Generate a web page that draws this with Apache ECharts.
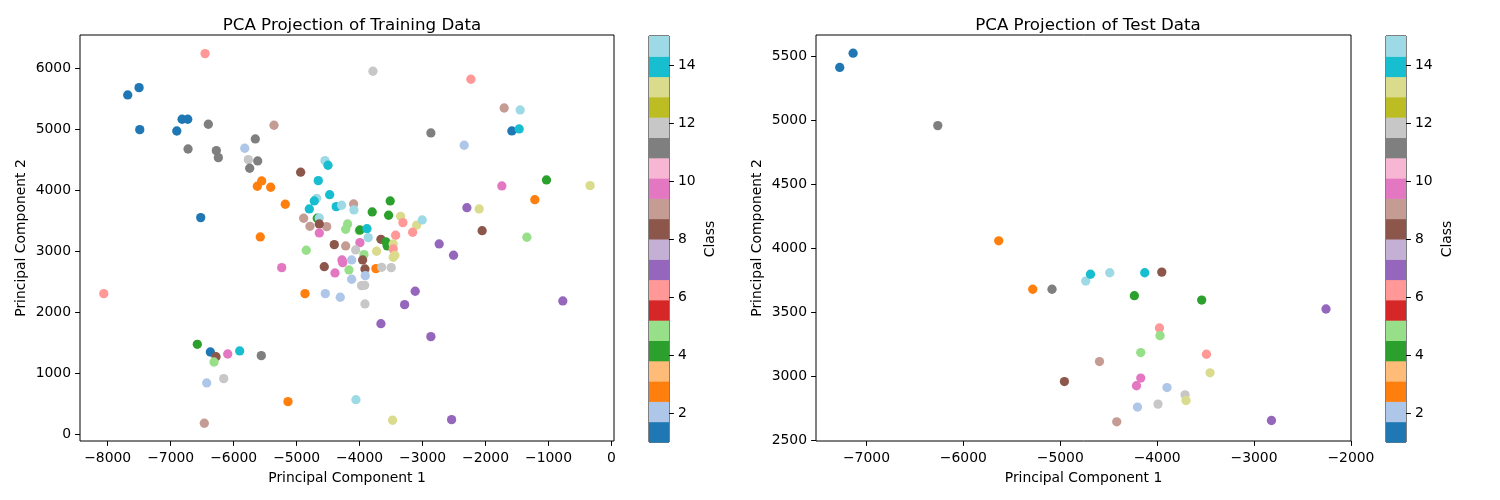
<!DOCTYPE html>
<html><head><meta charset="utf-8">
<script src="https://cdn.jsdelivr.net/npm/echarts@6/dist/echarts.min.js"></script>
<style>html,body{margin:0;padding:0;background:#fff}#c{width:1500px;height:500px}</style>
</head><body><div id="c"></div><script>
// ---- Training data (PC1, PC2, class) ----
const trainPC1 = [-6454,-7502,-7682,-7491,-6819,-6729,-6903,-6402,-5359,-5656,-6724,-6275,-6243,-5824,-5767,-5618,-5745,-4936,-4550,-4502,
 -5555,-5624,-5412,-4656,-4475,-5180,-4682,-4720,-4799,-4371,-4285,-6523,-5577,-4888,-4672,-4640,-4788,-4523,-4640,-4640,
 -4190,-4221,-4095,-4090,-3514,-3800,-3539,-3349,-3312,-3095,-3006,-3158,-3428,-4006,-3995,-3883,-3863,-3995,-4402,-4221,
 -4063,-3931,-3661,-3561,-3580,-3466,-3466,-3466,-3440,-3730,-4847,-5237,-4561,-4280,-4269,-4126,-3952,-4391,-4169,-3915,
 -3910,-4126,-3741,-3650,-3498,-3968,-3920,-3915,-4867,-4545,-4307,-3117,-3285,-3661,-2868,-2736,-2508,-773,-4058,-3476,
 -2539,-3788,-2233,-1704,-1450,-2868,-1582,-1466,-2339,-1741,-1032,-340,-1217,-2296,-2101,-2054,-1344,-8062,-6577,-6370,
 -6280,-6312,-6094,-5904,-5561,-6428,-6158,-5137,-6466];
const trainPC2 = [6237,5679,5560,4991,5161,5161,4969,5079,5063,4838,4674,4647,4532,4686,4499,4478,4358,4293,4483,4407,
 4150,4063,4047,4155,3925,3768,3866,3822,3691,3729,3752,3549,3232,3539,3539,3543,3407,3401,3445,3298,
 3445,3358,3773,3675,3822,3642,3588,3571,3467,3424,3511,3309,3260,3335,3347,3368,3221,3139,3106,3085,
 3019,2942,3194,3085,3150,3118,3035,2899,2930,2998,3014,2729,2745,2855,2811,2855,2855,2642,2691,2708,
 2598,2539,2713,2735,2729,2434,2440,2134,2303,2303,2244,2342,2123,1811,1598,3118,2932,2183,565,228,
 238,5948,5817,5346,5314,4937,4970,5002,4735,4068,4166,4073,3843,3712,3691,3335,3227,2303,1473,1347,
 1270,1183,1314,1364,1287,839,910,533,179];
const trainClass = [6,1,1,1,1,1,1,11,9,11,11,11,11,2,12,11,11,8,15,14,
 3,3,3,14,14,3,15,14,14,14,15,1,3,9,4,15,9,9,8,10,
 5,5,9,15,4,4,4,13,6,13,15,6,6,5,4,14,15,10,8,9,
 12,5,8,4,4,13,6,13,13,13,5,10,8,10,10,2,8,10,5,8,
 2,2,3,12,12,12,12,12,3,2,2,7,7,7,7,7,7,7,15,13,
 7,12,6,9,15,11,1,14,2,10,4,13,3,7,13,8,5,6,4,1,
 8,5,10,14,11,2,12,3,9];
// ---- Test data (PC1, PC2, class) ----
const testPC1 = [-7138,-7276,-6264,-5635,-5284,-5085,-4957,-4737,-4688,-4489,-4128,-3952,-4235,-3540,-2257,-3976,-3970,-4169,-3491,-4595,
 -3454,-4169,-4213,-3898,-3712,-3702,-3991,-4203,-4417,-2820];
const testPC2 = [5523,5412,4958,4059,3681,3681,2961,3745,3798,3810,3810,3815,3631,3597,3527,3379,3319,3187,3174,3117,
 3029,2988,2928,2914,2857,2813,2785,2762,2647,2657];
const testClass = [1,1,11,3,3,11,8,15,14,15,14,8,4,4,7,6,5,5,6,9,
 13,10,10,2,12,13,12,2,9,7];
// ---- Tick labels ----
const trainXTicks = [-8000,-7000,-6000,-5000,-4000,-3000,-2000,-1000,0];
const trainYTicks = [0,1000,2000,3000,4000,5000,6000];
const testXTicks = [-7000,-6000,-5000,-4000,-3000,-2000];
const testYTicks = [2500,3000,3500,4000,4500,5000,5500];
const classTicks = [2,4,6,8,10,12,14];
const classMin = 1, classMax = 15;
// tab20 colormap
const tab20 = ['#1f77b4','#aec7e8','#ff7f0e','#ffbb78','#2ca02c','#98df8a','#d62728','#ff9896','#9467bd','#c5b0d5',
 '#8c564b','#c49c94','#e377c2','#f7b6d2','#7f7f7f','#c7c7c7','#bcbd22','#dbdb8d','#17becf','#9edae5'];

function classColor(c){
  let i = Math.floor((c - classMin) / (classMax - classMin) * tab20.length);
  return tab20[Math.max(0, Math.min(tab20.length - 1, i))];
}
const cbSegments = tab20.map((col, i) => [
  classMin + i * (classMax - classMin) / tab20.length,
  classMin + (i + 1) * (classMax - classMin) / tab20.length, i]);

const FONT = 'DejaVu Sans';
const fmt = v => (v < 0 ? '\u2212' + Math.abs(v) : String(v));
const tickFont = {fontFamily: FONT, fontSize: 13.9, color: '#000'};

function valAxis(gridIndex, min, max, ticks, name, isY, gap) {
  return {
    type: 'value', gridIndex, min, max, scale: true,
    position: isY ? 'left' : 'bottom',
    axisLine: {show: false, onZero: false},
    splitLine: {show: false},
    axisTick: {show: true, length: 4.9, customValues: ticks, lineStyle: {color: '#000', width: 1}},
    axisLabel: Object.assign({customValues: ticks, margin: isY ? 9 : 10, formatter: fmt}, tickFont),
    name, nameLocation: 'middle', nameGap: gap,
    nameRotate: isY ? 90 : 0,
    nameTextStyle: {fontFamily: FONT, fontSize: 13.9, color: '#000'}
  };
}
function cbYAxis(gridIndex) {
  return {
    type: 'value', gridIndex, min: classMin, max: classMax, position: 'right',
    axisLine: {show: false, onZero: false}, splitLine: {show: false},
    axisTick: {show: true, length: 4.9, customValues: classTicks, lineStyle: {color: '#000'}},
    axisLabel: Object.assign({customValues: classTicks, margin: 9}, tickFont),
    name: 'Class', nameLocation: 'middle', nameGap: 34, nameRotate: 90,
    nameTextStyle: {fontFamily: FONT, fontSize: 13.9, color: '#000'}
  };
}
function cbXAxis(gridIndex) {
  return {type: 'value', gridIndex, min: 0, max: 1, show: false, axisLine: {onZero: false}};
}
function cbSeries(idx) {
  return {
    type: 'custom', xAxisIndex: idx, yAxisIndex: idx, data: cbSegments, silent: true,
    encode: {y: [0, 1]},
    renderItem: (params, api) => {
      const p0 = api.coord([0, api.value(0)]);
      const p1 = api.coord([1, api.value(1)]);
      return {type: 'rect', shape: {x: p0[0], y: p1[1], width: p1[0] - p0[0], height: p0[1] - p1[1] + 0.5},
        style: {fill: tab20[api.value(2)]}};
    }
  };
}
function scatterSeries(idx, xs, ys, cs) {
  return {
    type: 'scatter', xAxisIndex: idx, yAxisIndex: idx, symbolSize: 9.3,
    data: xs.map((x, i) => [x, ys[i], cs[i]]),
    itemStyle: {opacity: 1, color: p => classColor(p.value[2])}
  };
}
const gridStyle = {show: true, borderColor: '#000', borderWidth: 1, backgroundColor: 'transparent'};
const option = {
  animation: false,
  backgroundColor: '#fff',
  title: [
    {text: 'PCA Projection of Training Data', left: 347, top: 12, textAlign: 'center',
     textStyle: {fontFamily: FONT, fontSize: 16.7, fontWeight: 'normal', color: '#000'}},
    {text: 'PCA Projection of Test Data', left: 1083, top: 12, textAlign: 'center',
     textStyle: {fontFamily: FONT, fontSize: 16.7, fontWeight: 'normal', color: '#000'}}
  ],
  grid: [
    Object.assign({left: 80, top: 35, width: 534, height: 406}, gridStyle),
    Object.assign({left: 649, top: 36, width: 20, height: 406}, gridStyle),
    Object.assign({left: 816, top: 35, width: 535, height: 406}, gridStyle),
    Object.assign({left: 1386, top: 36, width: 20, height: 406}, gridStyle)
  ],
  xAxis: [
    valAxis(0, -8440, 40, trainXTicks, 'Principal Component 1', false, 30),
    cbXAxis(1),
    valAxis(2, -7521, -1999, testXTicks, 'Principal Component 1', false, 30),
    cbXAxis(3)
  ],
  yAxis: [
    valAxis(0, -112, 6542, trainYTicks, 'Principal Component 2', true, 52),
    cbYAxis(1),
    valAxis(2, 2497, 5665, testYTicks, 'Principal Component 2', true, 52),
    cbYAxis(3)
  ],
  series: [
    scatterSeries(0, trainPC1, trainPC2, trainClass),
    cbSeries(1),
    scatterSeries(2, testPC1, testPC2, testClass),
    cbSeries(3)
  ]
};
const chart = echarts.init(document.getElementById('c'), null, {renderer: 'canvas'});
chart.setOption(option);
</script></body></html>
